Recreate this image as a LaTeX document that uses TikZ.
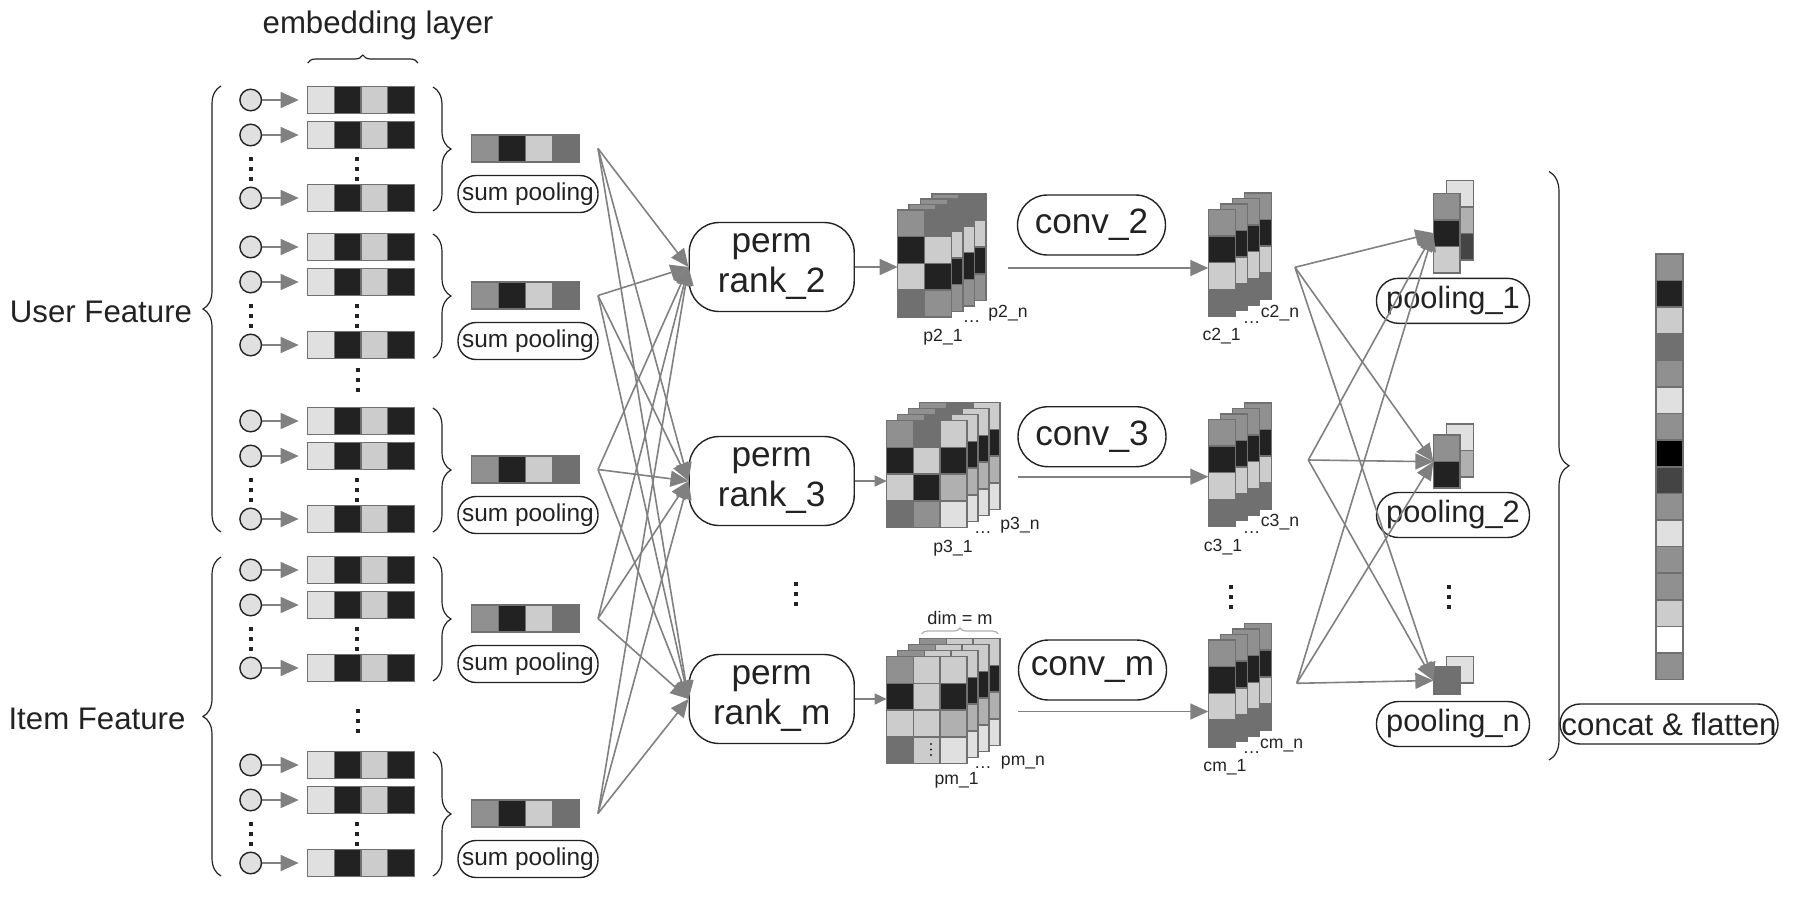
\documentclass[tikz,border=0pt]{standalone}
\usepackage{fontspec}
\setmainfont{Liberation Sans}
\usetikzlibrary{arrows.meta,decorations.pathreplacing}
\definecolor{g1}{HTML}{E0E0E0}
\definecolor{g2}{HTML}{CCCCCC}
\definecolor{g3}{HTML}{B0B0B0}
\definecolor{g4}{HTML}{909090}
\definecolor{g5}{HTML}{707070}
\definecolor{g6}{HTML}{444444}
\definecolor{g7}{HTML}{222222}
\definecolor{wire}{HTML}{808080}

\begin{document}
\begin{tikzpicture}[x=0.5pt,y=-0.5pt,
	feat/.style={ circle, draw=g7, line width=0.7pt, fill=g1, inner sep=0pt, minimum size=10.8pt },
	slot/.style={ inner sep=0pt, outer sep=0pt },
	tile/.style={ draw=g5, line width=0.75pt },
	link/.style={ wire, line width=0.8pt, -{Triangle[length=9pt,width=8pt]} },
	slink/.style={ wire, line width=0.8pt, -{Triangle[length=6pt,width=5.5pt]} },
	brc/.style={ decorate, decoration={brace, amplitude=#1}, draw=g7, line width=0.6pt },
	big/.style={ text=g7, inner sep=0pt, font=\fontsize{15.6}{18}\selectfont },
	lbl/.style={ text=g7, inner sep=0pt, font=\fontsize{8.8}{10}\selectfont },
	sumtag/.style={ draw=g7, line width=0.7pt, text=g7, inner sep=0pt, minimum width=70pt, minimum height=18.5pt, rounded corners=9pt, font=\fontsize{12.2}{14}\selectfont },
	permbox/.style={ draw=g7, line width=0.7pt, text=g7, inner sep=0pt, minimum width=82.5pt, minimum height=44.5pt, rounded corners=15pt, align=center, font=\fontsize{17.6}{20}\selectfont },
	convtag/.style={ draw=g7, line width=0.7pt, text=g7, inner sep=0pt, minimum width=74pt, minimum height=30pt, rounded corners=15pt, font=\fontsize{17.6}{20}\selectfont },
	pooltag/.style={ draw=g7, line width=0.7pt, text=g7, inner sep=0pt, minimum width=76.5pt, minimum height=22.5pt, rounded corners=11pt, font=\fontsize{15.4}{18}\selectfont }
]
\useasboundingbox (0,0) rectangle (1796,896);

\node at (378,25) (emb) [big] {embedding layer};
\draw[brc=4pt] (307.7,63) -- (418,63);
\node at (101,311.5) (user) [big] {User Feature};
\draw[brc=9pt] (221,532) -- (221,86);
\node at (97,719) (item) [big] {Item Feature};
\draw[brc=9pt] (221,876) -- (221,557);

\foreach \g/\gy in {1/100,2/247,3/421,4/570,5/765} {
	\foreach \r/\d in {1/0,2/35,3/98} {
		\node at (250.7,\gy+\d) (f\g\r) [feat] {};
		\node at (361,\gy+\d) (b\g\r) [slot, minimum width=53.3pt, minimum height=13.3pt] {};
		\foreach \f [count=\i from 0] in {g1,g7,g2,g7}
			\filldraw[tile, fill=\f] (307.7+26.65*\i,\gy+\d-13.3) rectangle ++(26.65,26.6);
		\draw[link, shorten >=4.5pt] (f\g\r) -- (b\g\r);
	}
	\foreach \k in {0,1,2} {
		\fill[g7] (248.7,\gy+57+10*\k) rectangle ++(4,4);
		\fill[g7] (355,\gy+57+10*\k) rectangle ++(4,4);
	}
	\draw[brc=9pt] (433,\gy-13) -- (433,\gy+111);
	\node at (525.5,\gy+48.5) (s\g) [slot, minimum width=53.8pt, minimum height=13.3pt] {};
	\foreach \f [count=\i from 0] in {g4,g7,g2,g5}
		\filldraw[tile, fill=\f] (471.7+26.9*\i,\gy+35.2) rectangle ++(26.9,26.6);
	\node at (528,\gy+94) (sp\g) [sumtag] {sum pooling};
	\coordinate (o\g) at (598,\gy+48.5);
}
\foreach \k in {0,1,2} {
	\fill[g7] (355.8,368+10*\k) rectangle ++(4,4);
	\fill[g7] (355.8,709+10*\k) rectangle ++(4,4);
	\fill[g7] (794,582+10*\k) rectangle ++(4,4);
	\fill[g7] (1228.7,585+10*\k) rectangle ++(4,4);
	\fill[g7] (1447.3,585+10*\k) rectangle ++(4,4);
}

\node at (771.7,267) (r2) [permbox] {perm\\rank\_2};
\node at (771.7,481) (r3) [permbox] {perm\\rank\_3};
\node at (771.7,699) (rm) [permbox] {perm\\rank\_m};
\foreach \g in {1,...,5}
	\foreach \r in {r2,r3,rm}
		\draw[link] (o\g) -- (\r.west);

\foreach \k in {3,2,1,0}
	\foreach \c/\r/\f in {0/0/g4,1/0/g5,0/1/g7,1/1/g2,0/2/g2,1/2/g7,0/3/g5,1/3/g4}
		\filldraw[tile, fill=\f] (897.7+11.5*\k+27*\c,210-5.4*\k+26.7*\r) rectangle ++(27,26.7);
\foreach \k in {3,2,1,0}
	\foreach \c/\r/\f in {0/0/g4,1/0/g5,2/0/g2,0/1/g7,1/1/g2,2/1/g7,0/2/g2,1/2/g7,2/2/g3,0/3/g5,1/3/g4,2/3/g1}
		\filldraw[tile, fill=\f] (886.7+11*\k+26.7*\c,420.7-6*\k+26.7*\r) rectangle ++(26.7,26.7);
\foreach \k in {3,2,1,0}
	\foreach \c/\r/\f in {0/0/g4,1/0/g2,2/0/g2,0/1/g7,1/1/g2,2/1/g7,0/2/g2,1/2/g2,2/2/g3,0/3/g5,1/3/g2,2/3/g1}
		\filldraw[tile, fill=\f] (886.7+11*\k+26.7*\c,656.7-6*\k+26.7*\r) rectangle ++(26.7,26.7);
\foreach \k in {0,1,2}
	\fill[g7] (931,744+5.5*\k) circle (1.1);
\node at (924.7,263.3) (p2) [slot, minimum width=27pt, minimum height=53.3pt] {};
\node at (926.7,474) (p3) [slot, minimum width=40pt, minimum height=53.3pt] {};
\node at (926.7,710) (pm) [slot, minimum width=40pt, minimum height=53.3pt] {};
\draw[link] (r2) -- (r2 -| p2.west);
\draw[slink] (r3) -- (r3 -| p3.west);
\draw[slink] (rm) -- (rm -| pm.west);
\draw[brc=3pt, draw=g3] (921.7,634) -- (998.3,634);
\node at (960,618) (dim) [lbl, font=\fontsize{9.1}{10}\selectfont] {dim = m};

\foreach \n/\x/\y/\t in {l21/943/336.7/{p2\_1}, l22/971.7/321.7/{\ldots}, l23/1008/313/{p2\_n},
	l31/953/548/{p3\_1}, l32/983/533/{\ldots}, l33/1020/525/{p3\_n},
	lm1/956.7/780/{pm\_1}, lm2/983/768/{\ldots}, lm3/1023/763/{pm\_n},
	k21/1221.7/336/{c2\_1}, k22/1251.7/323/{\ldots}, k23/1280/313/{c2\_n},
	k31/1223/546.7/{c3\_1}, k32/1251.7/533/{\ldots}, k33/1280/521.7/{c3\_n},
	km1/1225/766.7/{cm\_1}, km2/1251.7/753/{\ldots}, km3/1281.7/745/{cm\_n}}
	\node at (\x,\y) (\n) [lbl] {\t};

\node at (1091.5,225) (v2) [convtag] {conv\_2};
\node at (1092,436.7) (v3) [convtag] {conv\_3};
\node at (1092.5,670) (vm) [convtag] {conv\_m};

\foreach \gy/\n in {209.3/c2,419.3/c3,640/cm} {
	\foreach \k in {3,2,1,0}
		\foreach \f [count=\r from 0] in {g4,g7,g2,g5}
			\filldraw[tile, fill=\f] (1208.3+12*\k,\gy-5.5*\k+26.7*\r) rectangle ++(27,26.7);
	\node at (1221.8,\gy+53.3) (\n) [slot, minimum width=13.5pt, minimum height=53.3pt] {};
}
\coordinate (a2) at (1008,268);
\coordinate (a3) at (1018,476.7);
\coordinate (am) at (1018,711.5);
\draw[link] (a2) -- (a2 -| c2.west);
\draw[link] (a3) -- (a3 -| c3.west);
\draw[link] (am) -- (am -| cm.west);

\foreach \f [count=\i from 0] in {g1,g3,g6}
	\filldraw[tile, fill=\f] (1446.7,180.7+26.5*\i) rectangle ++(26.7,26.5);
\foreach \f [count=\i from 0] in {g4,g7,g2}
	\filldraw[tile, fill=\f] (1433.3,193.3+26.5*\i) rectangle ++(26.7,26.5);
\foreach \f [count=\i from 0] in {g1,g3}
	\filldraw[tile, fill=\f] (1446.7,424+26.5*\i) rectangle ++(26.7,26.5);
\foreach \f [count=\i from 0] in {g4,g7}
	\filldraw[tile, fill=\f] (1433.3,435+26.5*\i) rectangle ++(26.7,26.5);
\filldraw[tile, fill=g1] (1446.7,656.7) rectangle ++(26.7,26.5);
\filldraw[tile, fill=g5] (1433.3,666.7) rectangle ++(26.7,27.6);
\node at (1446.7,233) (u1) [slot, minimum width=13.35pt, minimum height=39.7pt] {};
\node at (1446.7,461.7) (u2) [slot, minimum width=13.35pt, minimum height=26.6pt] {};
\node at (1446.7,680.5) (un) [slot, minimum width=13.35pt, minimum height=13.8pt] {};
\node at (1453,300.8) (n1) [pooltag] {pooling\_1};
\node at (1453,515) (n2) [pooltag] {pooling\_2};
\node at (1453,724) (nn) [pooltag] {pooling\_n};
\coordinate (q2) at (1295,267.3);
\coordinate (q3) at (1308.3,460);
\coordinate (qm) at (1296.7,683.3);
\foreach \c in {q2,q3,qm}
	\foreach \u in {u1,u2,un}
		\draw[link] (\c) -- (\u.west);

\draw[brc=10pt] (1549,171.5) -- (1549,760);
\foreach \f [count=\i from 0] in {g4,g7,g2,g5,g4,g1,g4,black,g6,g4,g1,g4,g4,g2,white,g4}
	\filldraw[tile, fill=\f] (1656,254+26.6*\i) rectangle ++(27,26.6);
\node at (1669,724) (cf) [pooltag, minimum width=109pt, minimum height=20pt, rounded corners=10pt, font=\fontsize{15.6}{18}\selectfont] {concat \& flatten};

\end{tikzpicture}
\end{document}
